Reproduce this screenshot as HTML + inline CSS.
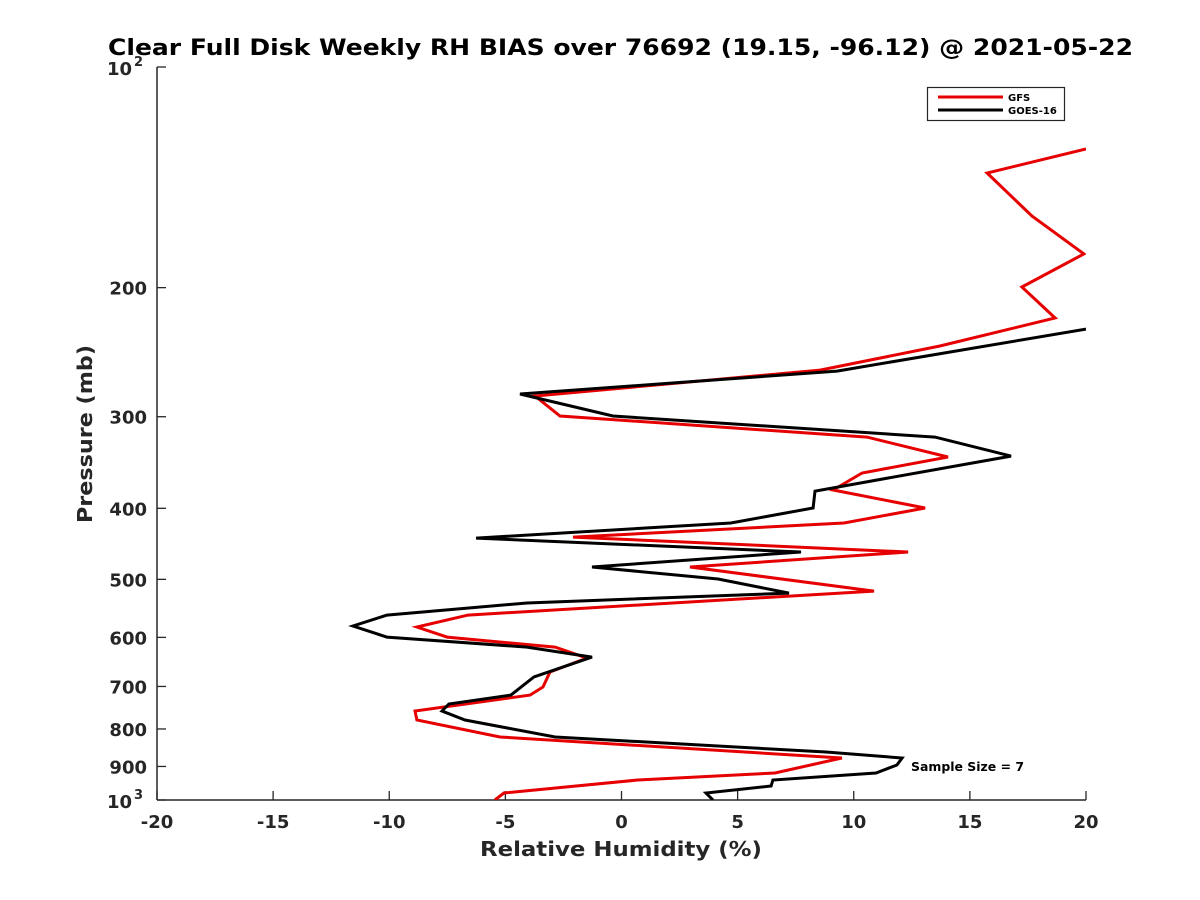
<!DOCTYPE html>
<html><head><meta charset="utf-8"><style>
html,body{margin:0;padding:0;background:#fff;}
svg{display:block;font-family:"DejaVu Sans","Liberation Sans",sans-serif;}
</style></head><body>
<svg id="chart" width="1200" height="900" viewBox="0 0 1200 900" xmlns="http://www.w3.org/2000/svg">
<defs><clipPath id="plotclip"><rect x="157" y="67" width="929" height="733"/></clipPath></defs>
<rect width="1200" height="900" fill="#fff"/>
<text x="108" y="55" font-size="22" font-weight="bold" fill="#000" textLength="1025" lengthAdjust="spacingAndGlyphs">Clear Full Disk Weekly RH BIAS over 76692 (19.15, -96.12) @ 2021-05-22</text>
<g id="axes"></g>
<g id="series" clip-path="url(#plotclip)"></g>
<text x="480" y="856" font-size="20" font-weight="bold" fill="#262626" textLength="282" lengthAdjust="spacingAndGlyphs">Relative Humidity (%)</text>
<text transform="translate(92,523) rotate(-90)" font-size="20" font-weight="bold" fill="#262626" textLength="178" lengthAdjust="spacingAndGlyphs">Pressure (mb)</text>
<g>
<rect x="927.5" y="87.5" width="137" height="33" fill="#fff" stroke="#262626" stroke-width="1.2"/>
<line x1="938" y1="97" x2="1003" y2="97" stroke="#e60000" stroke-width="3"/>
<text x="1008" y="101" font-size="10" font-weight="bold" fill="#000">GFS</text>
<line x1="938" y1="110" x2="1003" y2="110" stroke="#000" stroke-width="3"/>
<text x="1008" y="114" font-size="10" font-weight="bold" fill="#000">GOES-16</text>
</g>
<text x="911" y="771" font-size="12" font-weight="bold" fill="#000" textLength="113" lengthAdjust="spacingAndGlyphs">Sample Size = 7</text>
</svg>
<script>
const gfsValues=[20.0,15.74,17.67,19.91,17.24,18.67,13.71,8.55,-3.72,-2.65,10.57,14.06,10.36,9.11,13.07,9.58,-2.09,12.34,2.95,10.87,-6.61,-8.81,-7.51,-2.86,-1.49,-3.08,-3.38,-3.94,-8.89,-8.81,-5.23,9.49,6.61,0.71,-5.06,-5.45];
const gfsPressure=[129.4,139.5,159.7,179.9,199.6,220,240.2,259.1,281.1,299.3,319.8,340.5,358,377.7,399.6,418.9,437.8,458.9,481,518.8,559.4,580.8,599.5,618.6,640.4,669,701.3,719.3,756.1,777.8,820.4,876.4,918.8,939.2,978.4,1000];
const goesValues=[20.0,9.28,-4.37,-0.37,13.5,16.77,8.33,8.25,4.71,-6.26,7.73,-1.27,4.16,7.21,-4.07,-10.10,-11.56,-10.10,-4.07,-1.27,-3.77,-4.76,-7.43,-7.73,-6.74,-2.86,8.80,12.08,11.86,10.96,6.52,6.44,3.64,3.94];
const goesPressure=[227.8,259.9,279.3,299.3,319.8,339.5,378.9,399.6,418.9,439.2,458.9,481,499.4,522,538.6,559.4,579,599.5,618.6,638.3,679.6,719.3,739.6,756.1,777.8,820.4,860,876.4,896,918.8,939.2,957,978.4,1000];
const xTicks=[-20,-15,-10,-5,0,5,10,15,20];
const yTicks=[100,200,300,400,500,600,700,800,900,1000];
const yTickLabels=["10^2","200","300","400","500","600","700","800","900","10^3"];

const NS="http://www.w3.org/2000/svg";
const X0=157,X1=1086,Y0=67,Y1=800;
function xs(v){return X0+(v+20)/40*(X1-X0);}
function ys(p){return Y0+Math.log10(p/100)*(Y1-Y0);}
function mk(tag,attrs,parent){const e=document.createElementNS(NS,tag);for(const k in attrs)e.setAttribute(k,attrs[k]);parent.appendChild(e);return e;}
const axes=document.getElementById('axes');
let l=mk('line',{x1:X0,y1:Y0,x2:X0,y2:Y1,stroke:'#262626','stroke-width':1.5},axes);


l=mk('line',{x1:X0,y1:Y1,x2:X1,y2:Y1,stroke:'#262626','stroke-width':1.5},axes);


xTicks.forEach(v=>{
  const x=xs(v);
  const t=mk('line',{x1:x,y1:Y1,x2:x,y2:Y1-9,stroke:'#262626','stroke-width':1.3},axes);
  
  
  const tx=mk('text',{x:x,y:Y1+28,'text-anchor':'middle','font-size':18,'font-weight':'bold',fill:'#262626'},axes);
  tx.textContent=String(v);
  
  
});
yTicks.forEach((p,i)=>{
  const y=ys(p);
  const t=mk('line',{x1:X0,y1:y,x2:X0+9,y2:y,stroke:'#262626','stroke-width':1.3},axes);
  
  
  const lab=yTickLabels[i];
  if(lab.indexOf('^')>=0){
    const parts=lab.split('^');
    const tx=mk('text',{x:107,y:y+8,'font-size':18,'font-weight':'bold',fill:'#262626'},axes);
    tx.textContent=parts[0];
    
    
    const sp=mk('text',{x:134,y:y-1,'font-size':13,'font-weight':'bold',fill:'#262626'},axes);
    sp.textContent=parts[1];
    
    
  } else {
    const tx=mk('text',{x:X0-10,y:y+7,'text-anchor':'end','font-size':18,'font-weight':'bold',fill:'#262626'},axes);
    tx.textContent=lab;
    
    
  }
});
const series=document.getElementById('series');
function line(vals,pres,color,name){
  const pts=vals.map((v,i)=>xs(v).toFixed(1)+','+ys(pres[i]).toFixed(1)).join(' ');
  const pl=mk('polyline',{points:pts,fill:'none',stroke:color,'stroke-width':3,'stroke-linejoin':'miter'},series);
  
  
}
line(gfsValues,gfsPressure,'#e60000','gfs-line');
line(goesValues,goesPressure,'#000000','goes16-line');
</script>
</body></html>
